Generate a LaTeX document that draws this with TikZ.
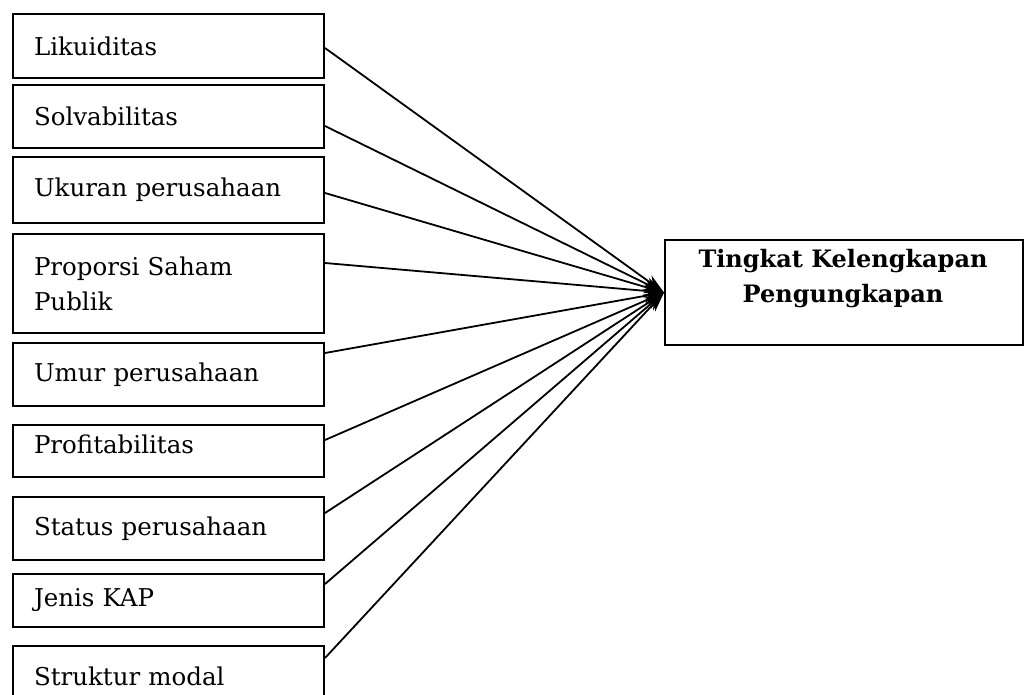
\documentclass[tikz,border=0pt]{standalone}
\usepackage{fontspec}
\setmainfont{DejaVu Serif}
\usetikzlibrary{arrows.meta}
\begin{document}
\begin{tikzpicture}[x=1pt,y=-1pt,
  lbox/.style={draw, line width=2pt, anchor=north west, minimum width=311pt,
    text width=269pt, inner xsep=21pt, inner ysep=0pt, align=left,
    font=\fontsize{24.5}{35}\selectfont},
  tbox/.style={draw, line width=2pt, anchor=north west, minimum width=358pt, minimum height=105pt},
  conn/.style={line width=1.8pt, -{Stealth[length=20pt,width=13pt]}}]
\useasboundingbox (0,0) rectangle (1024,695);
\node[lbox, minimum height=64pt] (b1) at (12,13) {Likuiditas};
\node[lbox, minimum height=63pt] (b2) at (12,84) {Solvabilitas};
\node[lbox, minimum height=66pt] (b3) at (12,156) {Ukuran perusahaan};
\node[lbox, minimum height=99pt] (b4) at (12,233) {Proporsi Saham\\Publik};
\node[lbox, minimum height=63pt] (b5) at (12,342) {Umur perusahaan};
\node[lbox, minimum height=52pt, text depth=14pt] (b6) at (12,424) {Profitabilitas};
\node[lbox, minimum height=63pt] (b7) at (12,496) {Status perusahaan};
\node[lbox, minimum height=53pt] (b8) at (12,573) {Jenis KAP};
\node[lbox, minimum height=60pt] (b9) at (12,645) {Struktur modal};
\node[tbox] (t) at (664,239) {};
\node[font=\fontsize{24}{35}\selectfont\bfseries, align=center] (tl) at (843,279) {Tingkat Kelengkapan\\Pengungkapan};
\draw[conn] ([yshift=-2pt]b1.east) -- (t.west);
\draw[conn] ([yshift=-9.5pt]b2.east) -- (t.west);
\draw[conn] ([yshift=-3pt]b3.east) -- (t.west);
\draw[conn] ([yshift=20.5pt]b4.east) -- (t.west);
\draw[conn] ([yshift=21.5pt]b5.east) -- (t.west);
\draw[conn] ([yshift=11pt]b6.east) -- (t.west);
\draw[conn] ([yshift=15.5pt]b7.east) -- (t.west);
\draw[conn] ([yshift=16.5pt]b8.east) -- (t.west);
\draw[conn] ([yshift=18pt]b9.east) -- (t.west);
\end{tikzpicture}
\end{document}
